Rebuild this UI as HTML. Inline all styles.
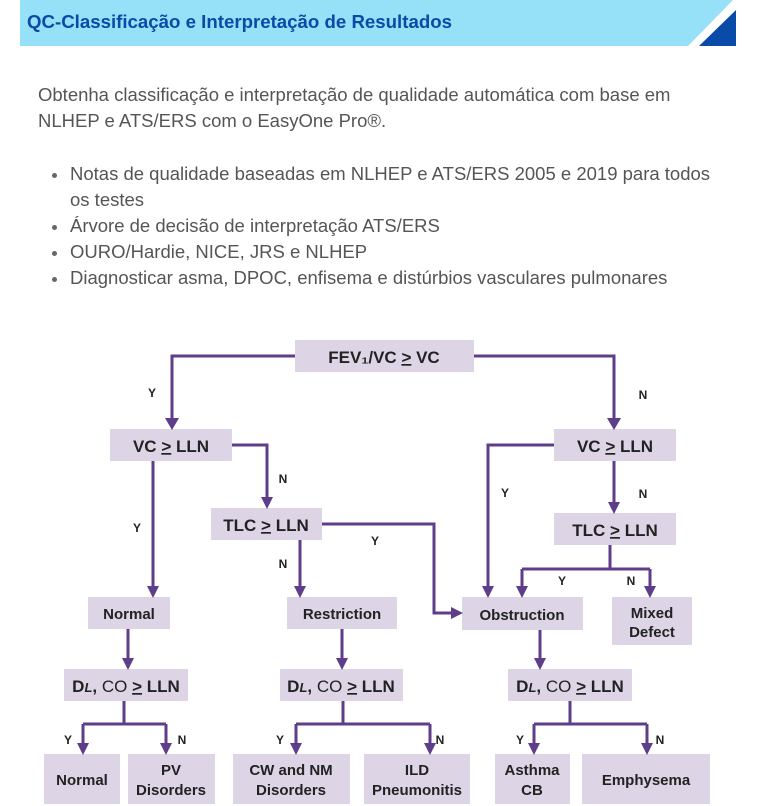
<!DOCTYPE html>
<html><head><meta charset="utf-8"><style>
body{margin:0;width:768px;height:806px;background:#fff;position:relative;overflow:hidden;font-family:"Liberation Sans",sans-serif}
.t{position:absolute;color:#555;font-size:18.5px;white-space:nowrap}
.d{position:absolute;width:5px;height:5px;border-radius:50%;background:#666}
</style></head><body>
<svg width="768" height="806" style="position:absolute;left:0;top:0">
<polygon points="20,0 733,0 688,46 20,46" fill="#96e0f8"/>
<polygon points="699,46 736,10 736,46" fill="#0a4aa8"/>
<text x="27" y="28" font-family="Liberation Sans" font-weight="bold" font-size="18" fill="#0b4aa5" textLength="425" lengthAdjust="spacingAndGlyphs">QC-Classificação e Interpretação de Resultados</text>
<g fill="#ddd5e6">
<rect x="295" y="340" width="179" height="32"/>
<rect x="110" y="429" width="122" height="32"/>
<rect x="211" y="508" width="111" height="32"/>
<rect x="554" y="429" width="122" height="32"/>
<rect x="554" y="513" width="122" height="32"/>
<rect x="88" y="597" width="82" height="32"/>
<rect x="287" y="597" width="110" height="32"/>
<rect x="462" y="597" width="121" height="33"/>
<rect x="612" y="597" width="80" height="48"/>
<rect x="64" y="669" width="124" height="32"/>
<rect x="280" y="669" width="123" height="32"/>
<rect x="508" y="669" width="124" height="32"/>
<rect x="44" y="754" width="76" height="50"/>
<rect x="128" y="754" width="87" height="50"/>
<rect x="233" y="754" width="117" height="50"/>
<rect x="364" y="754" width="106" height="50"/>
<rect x="495" y="754" width="75" height="50"/>
<rect x="582" y="754" width="128" height="50"/>
</g>
<g stroke="#5e3d8a" stroke-width="3" fill="none">
<polyline points="295,356 172,356 172,420"/>
<polyline points="474,356 614,356 614,420"/>
<polyline points="232,445 267,445 267,499"/>
<polyline points="153,461 153,588"/>
<polyline points="322,524 434,524 434,613 453,613"/>
<polyline points="300,540 300,588"/>
<polyline points="554,445 488,445 488,588"/>
<polyline points="614,461 614,504"/>
<polyline points="610,545 610,569"/>
<polyline points="522,569 650,569"/>
<polyline points="522,569 522,588"/>
<polyline points="650,569 650,588"/>
<polyline points="128,629 128,660"/>
<polyline points="342,629 342,660"/>
<polyline points="540,630 540,660"/>
<polyline points="124,701 124,724"/><polyline points="83,724 166,724"/><polyline points="83,724 83,745"/><polyline points="166,724 166,745"/>
<polyline points="343,701 343,724"/><polyline points="296,724 430,724"/><polyline points="296,724 296,745"/><polyline points="430,724 430,745"/>
<polyline points="570,701 570,724"/><polyline points="534,724 647,724"/><polyline points="534,724 534,745"/><polyline points="647,724 647,745"/>
</g>
<g fill="#5e3d8a">
<polygon points="165,418 179,418 172,430"/>
<polygon points="607,418 621,418 614,430"/>
<polygon points="261,497 273,497 267,509"/>
<polygon points="147,586 159,586 153,598"/>
<polygon points="451,607 451,619 463,613"/>
<polygon points="294,586 306,586 300,598"/>
<polygon points="482,586 494,586 488,598"/>
<polygon points="608,502 620,502 614,514"/>
<polygon points="516,586 528,586 522,598"/>
<polygon points="644,586 656,586 650,598"/>
<polygon points="122,658 134,658 128,670"/>
<polygon points="336,658 348,658 342,670"/>
<polygon points="534,658 546,658 540,670"/>
<polygon points="77,743 89,743 83,755"/><polygon points="160,743 172,743 166,755"/>
<polygon points="290,743 302,743 296,755"/><polygon points="424,743 436,743 430,755"/>
<polygon points="528,743 540,743 534,755"/><polygon points="641,743 653,743 647,755"/>
</g>
<g font-family="Liberation Sans" font-weight="bold" fill="#222" text-anchor="middle" font-size="17">
<text x="384" y="363">FEV₁/VC <tspan text-decoration="underline">&gt;</tspan> VC</text>
<text x="171" y="452">VC <tspan text-decoration="underline">&gt;</tspan> LLN</text>
<text x="266" y="531">TLC <tspan text-decoration="underline">&gt;</tspan> LLN</text>
<text x="615" y="452">VC <tspan text-decoration="underline">&gt;</tspan> LLN</text>
<text x="615" y="536">TLC <tspan text-decoration="underline">&gt;</tspan> LLN</text>
<g font-size="15">
<text x="129" y="619">Normal</text>
<text x="342" y="619">Restriction</text>
<text x="522" y="620">Obstruction</text>
<text x="652" y="618">Mixed</text><text x="652" y="637">Defect</text>
<text x="82" y="785">Normal</text>
<text x="171" y="775">PV</text><text x="171" y="795">Disorders</text>
<text x="291" y="775">CW and NM</text><text x="291" y="795">Disorders</text>
<text x="417" y="775">ILD</text><text x="417" y="795">Pneumonitis</text>
<text x="532" y="775">Asthma</text><text x="532" y="795">CB</text>
<text x="646" y="785">Emphysema</text>
</g>
<text x="126" y="692">D<tspan font-style="italic" font-size="13">L</tspan>, <tspan font-weight="normal">CO</tspan> <tspan text-decoration="underline">&gt;</tspan>  LLN</text>
<text x="341" y="692">D<tspan font-style="italic" font-size="13">L</tspan>, <tspan font-weight="normal">CO</tspan> <tspan text-decoration="underline">&gt;</tspan>  LLN</text>
<text x="570" y="692">D<tspan font-style="italic" font-size="13">L</tspan>, <tspan font-weight="normal">CO</tspan> <tspan text-decoration="underline">&gt;</tspan>  LLN</text>
<g font-size="12">
<text x="152" y="397">Y</text><text x="643" y="399">N</text>
<text x="283" y="483">N</text><text x="137" y="532">Y</text>
<text x="375" y="545">Y</text><text x="283" y="568">N</text>
<text x="505" y="497">Y</text><text x="643" y="498">N</text>
<text x="562" y="585">Y</text><text x="631" y="585">N</text>
<text x="68" y="744">Y</text><text x="182" y="744">N</text>
<text x="280" y="744">Y</text><text x="440" y="744">N</text>
<text x="520" y="744">Y</text><text x="660" y="744">N</text>
</g>
</g>
</svg>
<div class="t" style="left:38px;top:84px">Obtenha classificação e interpretação de qualidade automática com base em</div>
<div class="t" style="left:38px;top:110px">NLHEP e ATS/ERS com o EasyOne Pro®.</div>
<div class="d" style="left:52px;top:173px"></div>
<div class="t" style="left:70px;top:163px">Notas de qualidade baseadas em NLHEP e ATS/ERS 2005 e 2019 para todos</div>
<div class="t" style="left:70px;top:189px">os testes</div>
<div class="d" style="left:52px;top:225px"></div>
<div class="t" style="left:70px;top:215px">Árvore de decisão de interpretação ATS/ERS</div>
<div class="d" style="left:52px;top:251px"></div>
<div class="t" style="left:70px;top:241px">OURO/Hardie, NICE, JRS e NLHEP</div>
<div class="d" style="left:52px;top:277px"></div>
<div class="t" style="left:70px;top:267px">Diagnosticar asma, DPOC, enfisema e distúrbios vasculares pulmonares</div>
</body></html>
